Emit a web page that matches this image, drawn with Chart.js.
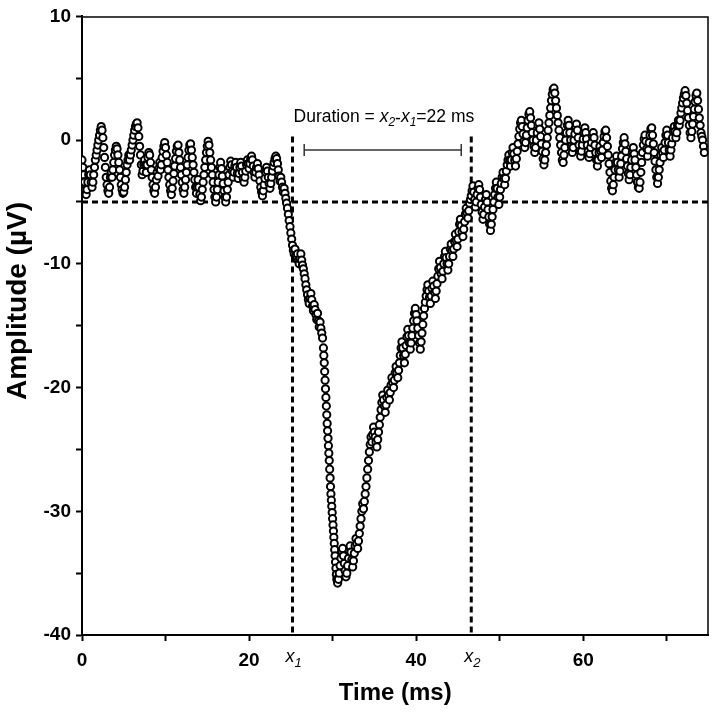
<!DOCTYPE html>
<html>
<head>
<meta charset="utf-8">
<script src="https://cdn.jsdelivr.net/npm/chart.js@4.4.1/dist/chart.umd.min.js"></script>
<style>
  html, body { margin: 0; padding: 0; background: #fff; }
  #wrap { width: 716px; height: 717px; }
</style>
</head>
<body>
<div id="wrap"><canvas id="ampChart" width="716" height="717"></canvas></div>
<script>
// ---- data ----
// baseline + onset, sampled every 0.1 ms from 0 ms
const segAStart = 0, segAStep = 0.1;
const segA = [
  -1.6,-2.2,-2.8,-3.4,-4.0,-4.4,-4.0,-3.4,-2.8,-2.4,
  -2.8,-3.4,-3.8,-3.4,-2.8,-2.2,-1.6,-1.2,-0.8,-0.4,
  0.0,0.4,0.8,1.1,0.8,0.2,-0.6,-1.4,-2.2,-3.0,
  -3.6,-4.1,-4.3,-3.8,-3.0,-2.6,-3.0,-2.4,-1.8,-1.2,
  -0.8,-0.5,-0.7,-1.2,-1.8,-2.4,-3.0,-3.6,-4.0,-4.3,
  -4.2,-3.8,-3.2,-2.6,-2.0,-1.6,-1.2,-1.6,-1.2,-0.8,
  -0.4,0.0,0.4,0.8,1.1,1.3,1.4,1.0,0.3,-0.5,
  -1.2,-2.0,-2.8,-2.5,-2.0,-1.6,-2.0,-2.6,-2.0,-1.4,
  -1.0,-1.2,-1.8,-2.4,-3.0,-3.6,-4.1,-4.3,-3.8,-3.2,
  -2.6,-2.9,-2.3,-1.8,-2.4,-2.0,-1.4,-0.9,-0.5,-0.2,
  -0.6,-1.2,-1.8,-2.4,-3.0,-3.6,-4.1,-4.4,-3.9,-3.3,
  -2.7,-2.1,-1.5,-0.9,-0.5,-0.4,-1.0,-1.6,-2.2,-2.8,
  -3.4,-4.0,-4.3,-3.8,-3.2,-2.6,-2.0,-1.4,-0.8,-0.4,
  -0.3,-0.8,-1.4,-2.0,-2.6,-3.2,-3.8,-4.3,-3.8,-3.2,
  -3.8,-4.4,-4.9,-4.6,-4.0,-3.4,-2.8,-2.2,-1.6,-1.0,
  -0.5,-0.1,-0.4,-1.0,-1.6,-2.2,-2.8,-3.4,-4.0,-4.6,
  -5.0,-4.6,-4.0,-3.4,-2.8,-2.2,-1.8,-2.3,-2.9,-3.5,
  -4.1,-4.6,-5.0,-4.6,-4.0,-3.4,-2.8,-2.2,-1.7,-2.0,
  -2.5,-3.0,-2.6,-2.1,-1.8,-2.2,-2.7,-3.1,-2.7,-2.2,
  -1.8,-2.1,-2.6,-3.1,-3.4,-3.0,-2.5,-2.0,-1.6,-1.9,
  -2.3,-1.9,-1.5,-1.3,-1.6,-2.1,-2.6,-3.0,-2.6,-2.2,
  -1.9,-2.3,-2.8,-3.3,-3.8,-4.2,-4.5,-4.1,-3.6,-3.1,
  -2.6,-2.2,-2.5,-3.0,-3.5,-3.9,-3.5,-3.0,-2.5,-2.1,
  -1.8,-1.5,-1.3,-1.5,-1.9,-2.4,-2.9,-3.3,-3.0,-3.4,
  -3.8,-4.2,-3.9,-4.3,-4.7,-5.1,-5.5,-6.0,-6.5,-7.0,
  -7.5,-8.0,-8.5,-8.9,-9.2,-8.8,-9.3,-9.6,-9.2,-9.7,
  -10.0,-9.6,-9.2,-9.7,-10.1,-10.4,-10.8,-11.2,-11.7,-12.1,
  -12.5,-12.9,-13.2,-12.8,-12.4,-12.9,-13.4,-13.8,-13.3,-13.7,
  -14.1,-14.5,-14.0,-14.6,-15.1,-14.7,-15.2,-15.6,-16.0
];
// fast falling edge, sampled every 0.05 ms
const segBStart = 28.9, segBStep = 0.05;
const segB = [
  -16.8,-17.4,-18.0,-18.7,-19.4,-20.1,-20.8,-21.5,-22.2,-22.9,
  -23.5,-24.1,-24.7,-25.3,-25.9,-26.6,-27.3,-28.0,-28.6,-29.1,
  -29.6,-30.1,-30.6,-31.1,-31.6,-32.1,-32.6,-33.1,-33.6,-34.1,
  -34.6,-35.1,-35.5
];
// trough, recovery and late baseline, every 0.1 ms
const segCStart = 30.6, segCStep = 0.1;
const segC = [
  -35.8,-35.5,-35.0,-34.4,-33.8,-33.2,-33.0,-33.6,-34.2,-34.8,
  -35.3,-35.0,-34.4,-33.8,-33.2,-32.8,-33.3,-33.9,-34.5,-34.0,
  -33.4,-32.8,-32.2,-32.6,-33.0,-32.4,-31.8,-31.2,-30.6,-30.0,
  -29.4,-29.8,-29.2,-28.6,-28.0,-27.3,-26.6,-25.9,-25.2,-24.6,
  -24.0,-24.4,-23.8,-23.2,-23.6,-24.0,-24.4,-24.8,-24.2,-23.6,
  -23.0,-22.4,-21.8,-21.2,-20.6,-21.0,-21.5,-22.0,-21.4,-20.8,
  -20.2,-20.6,-21.0,-20.4,-19.8,-19.2,-19.6,-20.0,-19.4,-18.8,
  -18.3,-18.8,-19.2,-18.6,-18.0,-17.4,-16.8,-16.3,-16.8,-17.4,
  -18.0,-17.3,-16.6,-15.9,-15.3,-15.8,-16.4,-16.9,-16.4,-15.8,
  -15.2,-14.6,-14.0,-13.6,-14.1,-14.6,-15.2,-15.8,-16.4,-16.9,
  -16.3,-15.6,-14.9,-14.2,-13.6,-13.1,-12.6,-12.1,-11.7,-12.2,
  -12.7,-13.2,-12.6,-12.0,-11.4,-11.8,-12.3,-12.8,-12.2,-11.6,
  -11.0,-10.4,-9.8,-10.3,-10.8,-11.2,-10.6,-10.0,-9.4,-9.0,
  -9.5,-10.0,-10.5,-10.0,-9.4,-8.8,-8.4,-8.9,-9.4,-8.8,
  -8.2,-7.6,-8.1,-8.6,-8.0,-7.4,-6.8,-6.4,-6.9,-7.4,
  -7.8,-7.2,-6.6,-6.0,-5.5,-5.9,-6.3,-5.7,-5.1,-4.8,
  -4.5,-4.1,-3.7,-4.2,-4.8,-5.4,-5.0,-4.4,-3.9,-3.6,
  -4.0,-4.6,-5.2,-5.8,-6.4,-6.0,-5.4,-4.8,-4.4,-5.0,
  -5.6,-6.2,-6.8,-7.3,-6.8,-6.2,-5.6,-5.0,-4.4,-3.9,
  -3.4,-3.9,-4.6,-5.2,-4.6,-4.0,-3.5,-3.0,-2.6,-3.1,
  -3.6,-3.1,-2.5,-2.0,-1.6,-1.2,-1.6,-2.1,-1.6,-1.0,
  -0.6,-1.1,-1.6,-2.1,-1.5,-0.9,-0.3,0.3,0.9,1.4,
  1.6,1.1,0.5,-0.1,-0.6,-0.2,0.4,1.0,1.6,2.1,
  2.3,1.8,1.2,0.6,0.0,-0.5,-1.0,-0.6,0.0,0.6,
  1.2,1.4,0.9,0.3,-0.3,-0.9,-1.5,-2.0,-1.6,-1.0,
  -0.4,0.2,0.8,1.4,2.0,2.6,3.2,3.7,4.1,4.2,
  3.8,3.2,2.6,2.0,1.4,0.8,0.2,-0.4,-1.0,-1.6,
  -1.8,-1.2,-0.6,0.0,0.6,1.2,1.6,1.2,0.6,0.0,
  -0.5,-1.0,-0.6,0.0,0.5,1.0,1.3,0.8,0.2,-0.4,
  -0.9,-1.3,-0.9,-0.4,0.1,0.6,1.0,0.6,0.1,-0.4,
  -0.9,-1.4,-1.1,-0.6,-0.2,0.3,0.6,0.2,-0.4,-1.0,
  -1.6,-2.1,-1.6,-1.0,-0.5,-0.9,-1.4,-0.8,-0.2,0.3,
  0.7,0.8,0.2,-0.5,-1.2,-1.9,-2.6,-3.3,-3.9,-4.1,
  -3.6,-3.0,-2.4,-1.8,-1.3,-1.8,-2.4,-3.0,-2.5,-1.9,
  -1.3,-0.7,-0.2,0.2,-0.3,-0.9,-1.5,-2.1,-2.7,-3.2,
  -2.8,-2.2,-1.6,-1.0,-0.6,-1.1,-1.6,-2.2,-2.8,-3.4,
  -3.8,-3.9,-3.4,-2.6,-1.8,-1.0,-0.4,0.1,0.4,-0.1,
  -0.7,-1.3,-0.8,-0.2,0.4,0.9,1.0,0.4,-0.3,-1.0,
  -1.7,-2.4,-3.0,-3.5,-3.0,-2.4,-1.8,-1.2,-0.6,-1.0,
  -1.4,-0.8,-0.2,0.4,0.8,0.4,-0.2,-0.8,-1.3,-0.8,
  -0.3,0.2,0.7,1.1,0.7,0.2,0.6,1.2,1.6,1.2,
  1.6,2.2,2.6,3.0,3.4,3.7,4.0,3.6,3.0,2.4,
  1.8,1.2,0.6,0.2,0.7,1.3,1.9,2.5,3.1,3.6,
  3.8,3.2,2.5,1.8,1.2,0.6,0.3,0.0,-0.5,-1.0
];

const threshold = -5;      // µV
const x1 = 25.2, x2 = 46.6; // ms, onset / offset
const bracketY = -0.8;
const bracketFrom = 26.6, bracketTo = 45.4;
const xTickValues = [0, 10, 20, 30, 40, 50, 60, 70];
const xLabelValues = [0, 20, 40, 60];
const yTickValues = [10, 5, 0, -5, -10, -15, -20, -25, -30, -35, -40];
const yLabelValues = [10, 0, -10, -20, -30, -40];

function toPoints(start, step, values) {
  return values.map((v, i) => ({ x: +(start + i * step).toFixed(3), y: v }));
}
const signalPoints = [
  ...toPoints(segAStart, segAStep, segA),
  ...toPoints(segBStart, segBStep, segB),
  ...toPoints(segCStart, segCStep, segC)
];

Chart.defaults.font.family = "'Liberation Sans', Arial, sans-serif";
Chart.defaults.color = '#000';

const FONT = "'Liberation Sans', Arial, sans-serif";

function drawRich(ctx, parts, cx, baseY) {
  let w = 0;
  parts.forEach(p => { ctx.font = p.f; p.w = ctx.measureText(p.t).width; w += p.w; });
  let x = cx - w / 2;
  ctx.textAlign = 'left';
  ctx.textBaseline = 'alphabetic';
  parts.forEach(p => {
    ctx.font = p.f;
    ctx.fillText(p.t, x, baseY + (p.dy || 0));
    x += p.w;
  });
}

const extrasPlugin = {
  id: 'extras',
  afterDraw(chart) {
    const { ctx, chartArea, scales } = chart;
    const xs = scales.x, ys = scales.y;
    ctx.save();
    // top and right frame lines
    ctx.strokeStyle = '#000';
    ctx.lineWidth = 1.5;
    ctx.beginPath();
    ctx.moveTo(chartArea.left, chartArea.top + 0.5);
    ctx.lineTo(chartArea.right - 0.5, chartArea.top + 0.5);
    ctx.lineTo(chartArea.right - 0.5, chartArea.bottom);
    ctx.stroke();

    ctx.fillStyle = '#000';
    // duration annotation
    const norm = '17.5px ' + FONT, ital = 'italic 17.5px ' + FONT, sub = 'italic 12px ' + FONT;
    drawRich(ctx, [
      { t: 'Duration = ', f: norm },
      { t: 'x', f: ital },
      { t: '2', f: sub, dy: 4 },
      { t: '-', f: norm, dy: 2 },
      { t: 'x', f: ital },
      { t: '1', f: sub, dy: 4 },
      { t: '=22 ms', f: norm }
    ], (xs.getPixelForValue(x1) + xs.getPixelForValue(x2)) / 2 + 2, ys.getPixelForValue(1.45));

    // x1 / x2 markers under the axis
    const lblY = chartArea.bottom + 27;
    [[x1, '1'], [x2, '2']].forEach(([v, s]) => {
      drawRich(ctx, [
        { t: 'x', f: 'italic 18px ' + FONT },
        { t: s, f: 'italic 13px ' + FONT, dy: 5 }
      ], xs.getPixelForValue(v) + 1, lblY);
    });

    // y title
    ctx.translate(18, 301);
    ctx.rotate(-Math.PI / 2);
    ctx.font = 'bold 28px ' + FONT;
    ctx.textAlign = 'center';
    ctx.textBaseline = 'middle';
    ctx.fillText('Amplitude (\u00b5V)', 0, 0);
    ctx.restore();
  }
};

const chartCanvas = document.getElementById('ampChart').getContext('2d');
const ampChart = new Chart(chartCanvas, {
  type: 'scatter',
  data: {
    datasets: [
      {
        label: 'Amplitude',
        data: signalPoints,
        order: 0,
        pointStyle: 'circle',
        pointRadius: 3.6,
        pointBorderWidth: 2,
        borderColor: '#000',
        backgroundColor: '#fff'
      },
      {
        label: 'threshold',
        data: [{ x: 0, y: threshold }, { x: 75, y: threshold }],
        order: 1,
        showLine: true,
        borderColor: '#000',
        borderWidth: 3,
        borderDash: [6, 4],
        pointRadius: 0
      },
      {
        label: 'x1',
        data: [{ x: x1, y: 0.3 }, { x: x1, y: -40 }],
        order: 1,
        showLine: true,
        borderColor: '#000',
        borderWidth: 3,
        borderDash: [6, 4],
        pointRadius: 0
      },
      {
        label: 'x2',
        data: [{ x: x2, y: 0.3 }, { x: x2, y: -40 }],
        order: 1,
        showLine: true,
        borderColor: '#000',
        borderWidth: 3,
        borderDash: [6, 4],
        pointRadius: 0
      },
      {
        label: 'bracket',
        data: [{ x: bracketFrom, y: bracketY }, { x: bracketTo, y: bracketY }],
        order: 1,
        showLine: true,
        borderColor: '#333',
        borderWidth: 1.5,
        pointStyle: 'line',
        rotation: 90,
        pointRadius: 6,
        pointBorderWidth: 1.5,
        pointBorderColor: '#333'
      }
    ]
  },
  options: {
    responsive: false,
    animation: false,
    events: [],
    layout: { padding: { top: 12, right: 5, left: 0, bottom: 0 } },
    plugins: {
      legend: { display: false },
      tooltip: { enabled: false }
    },
    scales: {
      x: {
        type: 'linear',
        min: 0,
        max: 75,
        afterBuildTicks: axis => { axis.ticks = xTickValues.map(v => ({ value: v })); },
        ticks: {
          autoSkip: false,
          maxRotation: 0,
          padding: 8,
          font: { size: 19, weight: 'bold' },
          callback: v => xLabelValues.includes(v) ? String(v) : ''
        },
        grid: { drawOnChartArea: false, drawTicks: true, tickLength: 6, tickWidth: 2, tickColor: '#000' },
        border: { color: '#000', width: 2 },
        title: {
          display: true,
          text: 'Time (ms)',
          font: { size: 24, weight: 'bold' },
          padding: { top: 0, bottom: 9 }
        },
        afterFit: s => { s.height = 82; }
      },
      y: {
        min: -40,
        max: 10,
        afterBuildTicks: axis => { axis.ticks = yTickValues.map(v => ({ value: v })); },
        ticks: {
          autoSkip: false,
          padding: 5,
          font: { size: 19, weight: 'bold' },
          callback: v => yLabelValues.includes(v) ? String(v) : ''
        },
        grid: { drawOnChartArea: false, drawTicks: true, tickLength: 6, tickWidth: 2, tickColor: '#000' },
        border: { color: '#000', width: 2 },
        afterFit: s => { s.width = 82; }
      }
    }
  },
  plugins: [extrasPlugin]
});
</script>
</body>
</html>
